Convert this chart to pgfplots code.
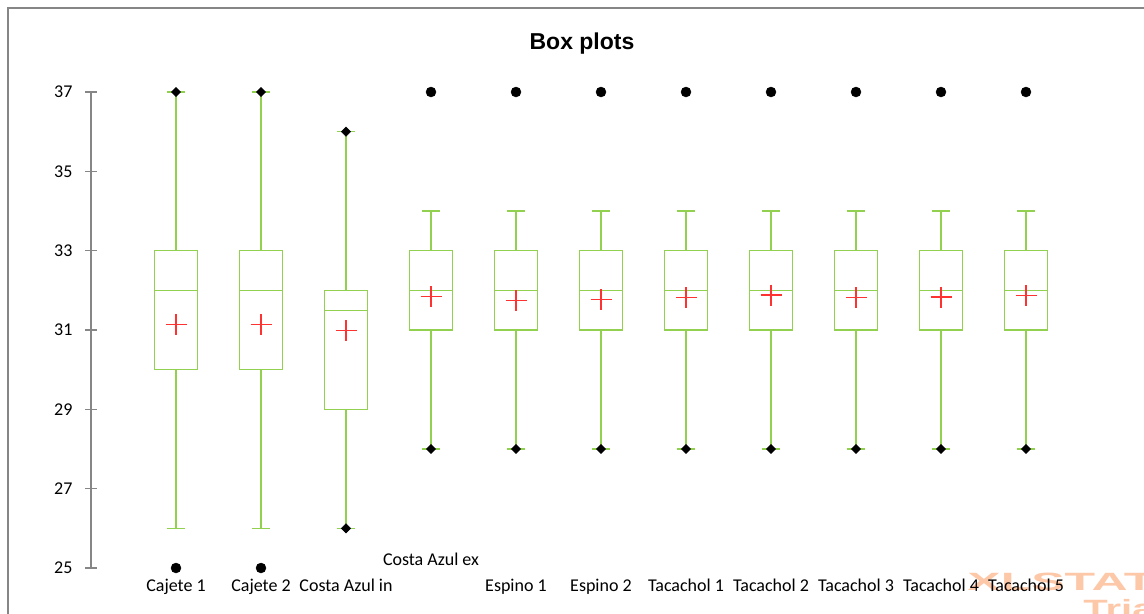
\documentclass[border=0pt]{standalone}
\usepackage{pgfplots}
\pgfplotsset{compat=1.18}
\usepgfplotslibrary{statistics}
\usepackage{fontspec}
\setmainfont{Carlito}
\newfontfamily\arialfont{Liberation Sans}
\definecolor{boxgreen}{RGB}{146,208,80}
\definecolor{meanred}{RGB}{255,50,50}
\definecolor{axgray}{RGB}{134,134,134}
\definecolor{wm}{RGB}{253,200,168}
\begin{document}
\begin{tikzpicture}
% frame
\draw[axgray, line width=1.2bp] (8bp,-640bp) -- (8bp,-8bp) -- (1170bp,-8bp);
% watermark
\node[anchor=base west, inner sep=0pt, text=wm, font=\arialfont\bfseries\fontsize{25bp}{25bp}\selectfont, xscale=2.0] at (967bp,-590bp) {XLSTAT};
\node[anchor=base west, inner sep=0pt, text=wm, font=\arialfont\bfseries\fontsize{25bp}{25bp}\selectfont, xscale=1.6] at (1083bp,-617bp) {Trial};
\begin{axis}[
  at={(91bp,-568bp)}, anchor=south west, scale only axis,
  width=1020bp, height=476bp,
  xmin=0, xmax=12, ymin=25, ymax=37,
  clip=false,
  axis lines*=left,
  separate axis lines,
  x axis line style={draw=none},
  y axis line style={axgray, line width=1.2bp},
  xtick={1,...,11},
  xticklabels={Cajete 1, Cajete 2, Costa Azul in, \raisebox{26bp}{Costa Azul ex}, Espino 1, Espino 2, Tacachol 1, Tacachol 2, Tacachol 3, Tacachol 4, Tacachol 5},
  xtick style={draw=none},
  ytick={25,27,...,37},
  ytick style={axgray, line width=1.2bp},
  tick align=center, major tick length=12bp,
  /pgf/number format/assume math mode=true,
  yticklabel style={font=\fontsize{18bp}{18bp}\selectfont, anchor=east, xshift=-9bp},
  xticklabel style={font=\fontsize{18bp}{18bp}\selectfont, anchor=base, yshift=-17bp},
  boxplot/draw direction=y,
]
\addplot[boxgreen, line width=1.3bp, boxplot prepared={draw position=1, lower whisker=26, lower quartile=30, median=32, upper quartile=33, upper whisker=37, box extend=0.5, whisker extend=0.22}] coordinates {};
\addplot[boxgreen, line width=1.3bp, boxplot prepared={draw position=2, lower whisker=26, lower quartile=30, median=32, upper quartile=33, upper whisker=37, box extend=0.5, whisker extend=0.22}] coordinates {};
\addplot[boxgreen, line width=1.3bp, boxplot prepared={draw position=3, lower whisker=26, lower quartile=29, median=31.5, upper quartile=32, upper whisker=36, box extend=0.5, whisker extend=0.22}] coordinates {};
\addplot[boxgreen, line width=1.3bp, boxplot prepared={draw position=4, lower whisker=28, lower quartile=31, median=32, upper quartile=33, upper whisker=34, box extend=0.5, whisker extend=0.22}] coordinates {};
\addplot[boxgreen, line width=1.3bp, boxplot prepared={draw position=5, lower whisker=28, lower quartile=31, median=32, upper quartile=33, upper whisker=34, box extend=0.5, whisker extend=0.22}] coordinates {};
\addplot[boxgreen, line width=1.3bp, boxplot prepared={draw position=6, lower whisker=28, lower quartile=31, median=32, upper quartile=33, upper whisker=34, box extend=0.5, whisker extend=0.22}] coordinates {};
\addplot[boxgreen, line width=1.3bp, boxplot prepared={draw position=7, lower whisker=28, lower quartile=31, median=32, upper quartile=33, upper whisker=34, box extend=0.5, whisker extend=0.22}] coordinates {};
\addplot[boxgreen, line width=1.3bp, boxplot prepared={draw position=8, lower whisker=28, lower quartile=31, median=32, upper quartile=33, upper whisker=34, box extend=0.5, whisker extend=0.22}] coordinates {};
\addplot[boxgreen, line width=1.3bp, boxplot prepared={draw position=9, lower whisker=28, lower quartile=31, median=32, upper quartile=33, upper whisker=34, box extend=0.5, whisker extend=0.22}] coordinates {};
\addplot[boxgreen, line width=1.3bp, boxplot prepared={draw position=10, lower whisker=28, lower quartile=31, median=32, upper quartile=33, upper whisker=34, box extend=0.5, whisker extend=0.22}] coordinates {};
\addplot[boxgreen, line width=1.3bp, boxplot prepared={draw position=11, lower whisker=28, lower quartile=31, median=32, upper quartile=33, upper whisker=34, box extend=0.5, whisker extend=0.22}] coordinates {};
% means
\addplot[meanred, only marks, mark=+, mark size=10.5bp, mark options={draw=meanred, line width=1.2bp}] coordinates {
(1,31.14) (2,31.14) (3,30.98) (4,31.84) (5,31.75) (6,31.76) (7,31.81) (8,31.88) (9,31.81) (10,31.83) (11,31.86)};
% minimum / maximum within whiskers
\addplot[black, only marks, mark=square*, mark size=3.3bp, mark options={black, rotate=45}] coordinates {
(1,37) (2,37) (3,36) (3,26) (4,28) (5,28) (6,28) (7,28) (8,28) (9,28) (10,28) (11,28)};
% outliers
\addplot[black, only marks, mark=*, mark size=5bp, mark options={black}] coordinates {
(1,25) (2,25) (4,37) (5,37) (6,37) (7,37) (8,37) (9,37) (10,37) (11,37)};
\end{axis}
\node[anchor=base, inner sep=0pt, font=\arialfont\bfseries\fontsize{23bp}{23bp}\selectfont] at (582bp,-49bp) {Box plots};
\pgfresetboundingbox
\useasboundingbox (0,0) rectangle (1144bp,-614bp);
\end{tikzpicture}
\end{document}
